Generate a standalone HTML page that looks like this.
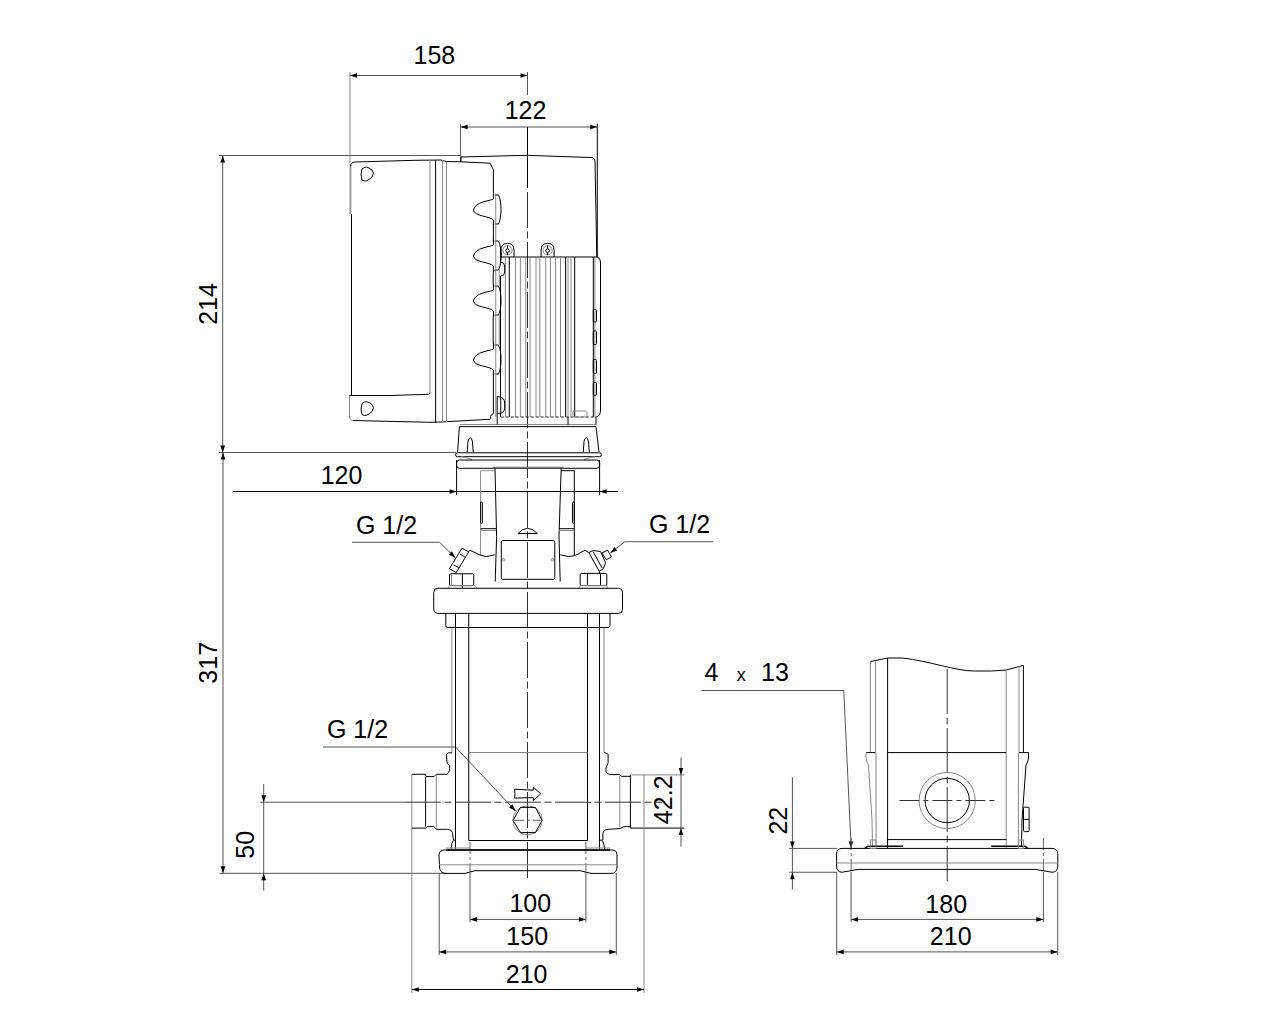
<!DOCTYPE html>
<html><head><meta charset="utf-8"><style>
html,body{margin:0;padding:0;background:#fff;width:1280px;height:1024px;overflow:hidden}
svg{display:block;font-family:"Liberation Sans",sans-serif}
.k{stroke:#000;stroke-width:1;fill:none}
.g{stroke:#888;stroke-width:1;fill:none}
.d{stroke:#555;stroke-width:1;fill:none}
.dd{stroke:#666;stroke-width:1;fill:none;stroke-dasharray:12 3 3 3}
.c{stroke:#333;stroke-width:1;fill:none;stroke-dasharray:36 3.5 7 3.5}
.cs{stroke:#333;stroke-width:1;fill:none;stroke-dasharray:45 3.5 7 3.5}
.ar{fill:#000;stroke:none}
.dash2{stroke:#222;stroke-width:1;fill:none;stroke-dasharray:3 2}
.gt{stroke:#777;stroke-width:1.6;fill:none}
.thick{stroke:#000;stroke-width:1.6;fill:none}
.c2{stroke:#333;stroke-width:1;fill:none;stroke-dasharray:20 4 5 4}
text{fill:#000}
</style></head><body>
<svg width="1280" height="1024" viewBox="0 0 1280 1024">
<line x1="350" y1="72" x2="350" y2="214" class="g"/>
<line x1="527.5" y1="72" x2="527.5" y2="95" class="d"/>
<line x1="350" y1="75.5" x2="527.5" y2="75.5" class="d"/>
<polygon points="350,75.5 357,73.2 357,77.8" class="ar"/>
<polygon points="527.5,75.5 520.5,73.2 520.5,77.8" class="ar"/>
<text x="434.4" y="64" font-size="25" text-anchor="middle" >158</text>
<line x1="460.6" y1="124" x2="460.6" y2="161.8" class="d"/>
<line x1="597.3" y1="123.7" x2="597.3" y2="257" class="k"/>
<line x1="460.6" y1="127" x2="597.3" y2="127" class="d"/>
<polygon points="460.6,127 467.6,124.7 467.6,129.3" class="ar"/>
<polygon points="597.3,127 590.3,124.7 590.3,129.3" class="ar"/>
<text x="525.5" y="118.6" font-size="25" text-anchor="middle" >122</text>
<line x1="219" y1="155.5" x2="461" y2="155.5" class="d"/>
<line x1="219" y1="452.5" x2="456" y2="452.5" class="d"/>
<line x1="222.7" y1="155.5" x2="222.7" y2="452.5" class="d"/>
<polygon points="222.7,155.5 220.39999999999998,162.5 225.0,162.5" class="ar"/>
<polygon points="222.7,452.5 220.39999999999998,445.5 225.0,445.5" class="ar"/>
<text x="0" y="0" font-size="25" text-anchor="middle" transform="translate(216.5,304) rotate(-90)" >214</text>
<line x1="223" y1="452.5" x2="223" y2="873.3" class="d"/>
<polygon points="223,452.5 220.7,459.5 225.3,459.5" class="ar"/>
<polygon points="223,873.3 220.7,866.3 225.3,866.3" class="ar"/>
<text x="0" y="0" font-size="25" text-anchor="middle" transform="translate(216.5,662.8) rotate(-90)" >317</text>
<line x1="219.5" y1="873.3" x2="446" y2="873.3" class="d"/>
<line x1="263.7" y1="784" x2="263.7" y2="890.5" class="d"/>
<polygon points="263.7,802.2 261.4,795.2 266.0,795.2" class="ar"/>
<polygon points="263.7,873.3 261.4,880.3 266.0,880.3" class="ar"/>
<text x="0" y="0" font-size="25" text-anchor="middle" transform="translate(253.6,844.8) rotate(-90)" >50</text>
<line x1="233" y1="491.5" x2="618" y2="491.5" class="k"/>
<polygon points="456.6,491.5 449.6,489.2 449.6,493.8" class="ar"/>
<polygon points="599.6,491.5 606.6,489.2 606.6,493.8" class="ar"/>
<line x1="456.6" y1="460" x2="456.6" y2="495" class="k"/>
<line x1="599.6" y1="460" x2="599.6" y2="495" class="k"/>
<text x="341.5" y="484" font-size="25" text-anchor="middle" >120</text>
<text x="386.5" y="533.5" font-size="25" text-anchor="middle" >G 1/2</text>
<polyline points="352,542.3 439.5,542.3 455.4,557.7" class="d"/>
<polygon points="455.40,557.70 448.77,554.48 451.97,551.18" class="ar"/>
<text x="679.5" y="533" font-size="25" text-anchor="middle" >G 1/2</text>
<polyline points="713,541.7 624.8,541.7 610.3,553" class="d"/>
<polygon points="610.30,553.00 614.41,546.88 617.24,550.51" class="ar"/>
<text x="357.5" y="738.2" font-size="25" text-anchor="middle" >G 1/2</text>
<polyline points="323,747 455.5,747 515.6,811" class="d"/>
<polygon points="515.60,811.00 509.13,807.47 512.48,804.32" class="ar"/>
<line x1="630.4" y1="774.9" x2="684.3" y2="774.9" class="g"/>
<line x1="630.4" y1="828.1" x2="684.3" y2="828.1" class="k"/>
<line x1="681" y1="757.6" x2="681" y2="846.6" class="d"/>
<polygon points="681,774.9 678.7,767.9 683.3,767.9" class="ar"/>
<polygon points="681,828.1 678.7,835.1 683.3,835.1" class="ar"/>
<text x="0" y="0" font-size="25" text-anchor="middle" transform="translate(672.3,799.8) rotate(-90)" >42.2</text>
<line x1="470" y1="842" x2="470" y2="873" class="dd"/>
<line x1="585.9" y1="842" x2="585.9" y2="873" class="dd"/>
<line x1="470" y1="873" x2="470" y2="922.4" class="d"/>
<line x1="585.9" y1="873" x2="585.9" y2="922.4" class="d"/>
<line x1="470" y1="919.4" x2="585.9" y2="919.4" class="d"/>
<polygon points="470,919.4 477,917.1 477,921.6999999999999" class="ar"/>
<polygon points="585.9,919.4 578.9,917.1 578.9,921.6999999999999" class="ar"/>
<text x="530.3" y="911.6" font-size="25" text-anchor="middle" >100</text>
<line x1="439.2" y1="873" x2="439.2" y2="955" class="d"/>
<line x1="616.3" y1="873" x2="616.3" y2="955" class="d"/>
<line x1="439.2" y1="951.9" x2="616.3" y2="951.9" class="d"/>
<polygon points="439.2,951.9 446.2,949.6 446.2,954.1999999999999" class="ar"/>
<polygon points="616.3,951.9 609.3,949.6 609.3,954.1999999999999" class="ar"/>
<text x="527.2" y="945.2" font-size="25" text-anchor="middle" >150</text>
<line x1="411.8" y1="774" x2="411.8" y2="993" class="g"/>
<line x1="644" y1="774.9" x2="644" y2="993" class="g"/>
<line x1="411.8" y1="989.5" x2="644" y2="989.5" class="k"/>
<polygon points="411.8,989.5 418.8,987.2 418.8,991.8" class="ar"/>
<polygon points="644,989.5 637,987.2 637,991.8" class="ar"/>
<text x="526.6" y="983.2" font-size="25" text-anchor="middle" >210</text>
<text x="704.5" y="681" font-size="25" text-anchor="start" >4</text>
<text x="741.3" y="681" font-size="18" text-anchor="middle" >x</text>
<text x="761" y="681" font-size="25" text-anchor="start" >13</text>
<polyline points="701.3,690.5 843.75,690.5 851.2,848.4" class="d"/>
<polygon points="851.20,848.40 848.57,841.52 853.17,841.30" class="ar"/>
<line x1="789" y1="848.4" x2="837" y2="848.4" class="d"/>
<line x1="789" y1="872.25" x2="837" y2="872.25" class="d"/>
<line x1="792.4" y1="777.2" x2="792.4" y2="889.4" class="d"/>
<polygon points="792.4,848.4 790.1,841.4 794.6999999999999,841.4" class="ar"/>
<polygon points="792.4,872.25 790.1,879.25 794.6999999999999,879.25" class="ar"/>
<text x="0" y="0" font-size="25" text-anchor="middle" transform="translate(786.7,820.7) rotate(-90)" >22</text>
<line x1="851.1" y1="838" x2="851.1" y2="872" class="dd"/>
<line x1="1043.4" y1="838" x2="1043.4" y2="872" class="dd"/>
<line x1="851.1" y1="872" x2="851.1" y2="922" class="d"/>
<line x1="1043.4" y1="872" x2="1043.4" y2="922" class="d"/>
<line x1="851.1" y1="919.4" x2="1043.4" y2="919.4" class="d"/>
<polygon points="851.1,919.4 858.1,917.1 858.1,921.6999999999999" class="ar"/>
<polygon points="1043.4,919.4 1036.4,917.1 1036.4,921.6999999999999" class="ar"/>
<text x="946.2" y="913.2" font-size="25" text-anchor="middle" >180</text>
<line x1="836.7" y1="872" x2="836.7" y2="955" class="d"/>
<line x1="1057.7" y1="872" x2="1057.7" y2="955" class="d"/>
<line x1="836.7" y1="951.9" x2="1057.7" y2="951.9" class="d"/>
<polygon points="836.7,951.9 843.7,949.6 843.7,954.1999999999999" class="ar"/>
<polygon points="1057.7,951.9 1050.7,949.6 1050.7,954.1999999999999" class="ar"/>
<text x="950.7" y="945.2" font-size="25" text-anchor="middle" >210</text>
<line x1="527.5" y1="127" x2="527.5" y2="188" class="k"/>
<line x1="527.5" y1="192" x2="527.5" y2="880" class="c"/>
<path d="M461,161.8 L446,161.5 L441,160 L415,160.3 L355,162 Q350.8,162.3 350.8,166" class="k"/>
<line x1="350.8" y1="166" x2="350.8" y2="214" class="g"/>
<line x1="351.5" y1="214" x2="351.5" y2="395.5" class="k"/>
<line x1="349.5" y1="395.5" x2="349.5" y2="416" class="g"/>
<path d="M349.5,416 Q349.8,420.3 353,420.5" class="g"/>
<path d="M353,420.5 L430,422.3 L441,422 L490.1,419.25 Q491.5,418.5 490.5,416.5 Q490.5,415 493.4,413.4 L493.4,374" class="k"/>
<line x1="430" y1="160.5" x2="430" y2="393.5" class="g"/>
<line x1="435.6" y1="160" x2="435.6" y2="422.5" class="k"/>
<line x1="442.5" y1="160" x2="442.5" y2="422" class="g"/>
<line x1="446.5" y1="161.5" x2="446.5" y2="422" class="g"/>
<path d="M349.5,395.5 L390,395.5 L428.5,394.3 Q430,394 430,392.5" class="k"/>
<path d="M362,169 Q366,165 372,170 Q375,173 372,177 Q366,183 362,180 Q360,175 362,169 Z" class="k"/>
<path d="M362,403.5 Q366,399.5 372,404.5 Q375,407.5 372,411.5 Q366,417.5 362,414.5 Q360,409.5 362,403.5 Z" class="k"/>
<path d="M461,161.8 L490,163.2 L493.4,169.5 L493.4,193.4" class="k"/>
<path d="M493.4,193.5 L493.4,199.0 C490,201.0 475,201.5 473.5,210.0 C474,216.5 490,216.0 493.4,220.0 L493.4,225.5" class="k"/>
<path d="M494.6,195.0 L498.5,195.0 Q501,200.0 501,209.5 Q501,219.0 498.5,224.0 L494.6,224.0" class="k"/>
<path d="M493.4,239.5 L493.4,245.0 C490,247.0 475,247.5 473.5,256.0 C474,262.5 490,262.0 493.4,266.0 L493.4,271.5" class="k"/>
<path d="M494.6,241.0 L498.5,241.0 Q501,246.0 501,255.5 Q501,265.0 498.5,270.0 L494.6,270.0" class="k"/>
<path d="M493.4,284.5 L493.4,290.0 C490,292.0 475,292.5 473.5,301.0 C474,307.5 490,307.0 493.4,311.0 L493.4,316.5" class="k"/>
<path d="M494.6,286.0 L498.5,286.0 Q501,291.0 501,300.5 Q501,310.0 498.5,315.0 L494.6,315.0" class="k"/>
<path d="M493.4,343.5 L493.4,349.0 C490,351.0 475,351.5 473.5,360.0 C474,366.5 490,366.0 493.4,370.0 L493.4,375.5" class="k"/>
<path d="M494.6,345.0 L498.5,345.0 Q501,350.0 501,359.5 Q501,369.0 498.5,374.0 L494.6,374.0" class="k"/>
<line x1="493.4" y1="193.8" x2="493.4" y2="195.5" class="k"/>
<line x1="493.4" y1="224" x2="493.4" y2="241" class="k"/>
<path d="M494,270 Q493.2,271 493.2,274 L493.2,283 Q493.2,286 494,286" class="k"/>
<line x1="499.3" y1="270" x2="499.3" y2="286" class="g"/>
<path d="M494,315 Q493.2,316 493.2,319 L493.2,342 Q493.2,345 494,345" class="k"/>
<line x1="499.3" y1="315" x2="499.3" y2="345" class="g"/>
<line x1="495.75" y1="193" x2="495.75" y2="417" class="g"/>
<path d="M461,161.8 L461,157 L527,155.3 L592.6,157.6 Q595,158.5 595,161 L596.8,257" class="k"/>
<line x1="500.7" y1="257" x2="597" y2="257" class="k"/>
<path d="M597,257 Q600.5,258 600.5,262 L600.5,410 Q600.5,416 596,417" class="k"/>
<line x1="505.4" y1="257" x2="505.4" y2="417" class="g"/>
<line x1="509.3" y1="257" x2="509.3" y2="417" class="k"/>
<line x1="515.5" y1="257" x2="515.5" y2="417" class="g"/>
<line x1="520.4" y1="257" x2="520.4" y2="417" class="g"/>
<line x1="525.8" y1="257" x2="525.8" y2="417" class="g"/>
<line x1="530" y1="257" x2="530" y2="417" class="g"/>
<line x1="536" y1="257" x2="536" y2="417" class="g"/>
<line x1="539.8" y1="257" x2="539.8" y2="417" class="g"/>
<line x1="545.7" y1="257" x2="545.7" y2="417" class="g"/>
<line x1="550.4" y1="257" x2="550.4" y2="417" class="g"/>
<line x1="555.6" y1="257" x2="555.6" y2="417" class="g"/>
<line x1="560.5" y1="257" x2="560.5" y2="417" class="g"/>
<line x1="565.6" y1="257" x2="565.6" y2="417" class="k"/>
<line x1="568" y1="257" x2="568" y2="417" class="g"/>
<line x1="571" y1="257" x2="571" y2="417" class="g"/>
<line x1="574.7" y1="257" x2="574.7" y2="417" class="k"/>
<line x1="593.3" y1="257" x2="593.3" y2="417" class="k"/>
<line x1="594.9" y1="257" x2="594.9" y2="417" class="g"/>
<line x1="500.7" y1="417" x2="596" y2="417" class="dash2"/>
<line x1="500.5" y1="246.5" x2="500.5" y2="261" class="k"/>
<line x1="500.5" y1="276" x2="500.5" y2="417" class="k"/>
<line x1="497.2" y1="396" x2="497.2" y2="417" class="k"/>
<rect x="593.3" y="309.5" width="3.2" height="12.5" rx="1" class="k"/>
<rect x="593.3" y="331" width="3.2" height="13.600000000000023" rx="1" class="k"/>
<rect x="593.3" y="359.4" width="3.2" height="14.0" rx="1" class="k"/>
<rect x="593.3" y="382.5" width="3.2" height="12.699999999999989" rx="1" class="k"/>
<rect x="573" y="411" width="14" height="6" rx="1.5" class="g"/>
<path d="M500.7,262 Q504.7,262.5 504.7,266 L504.7,272 Q504.7,276 500.7,276" class="k"/>
<path d="M498,396.6 Q504.7,397 504.7,403 L504.7,408 Q504.7,413.4 498,413.4" class="k"/>
<line x1="501" y1="398" x2="501" y2="412" class="g"/>
<path d="M501.0,257 L501.0,250 Q501.0,243.4 507.5,243.4 Q514.0,243.4 514.0,250 L514.0,257" class="k"/>
<circle cx="507.5" cy="250.3" r="4.6" class="g"/>
<circle cx="507.5" cy="250.6" r="1.8" class="k"/>
<line x1="507.5" y1="245.5" x2="507.5" y2="248.5" class="k"/>
<line x1="507.5" y1="252.5" x2="507.5" y2="255" class="k"/>
<path d="M541.1,257 L541.1,250 Q541.1,243.4 547.6,243.4 Q554.1,243.4 554.1,250 L554.1,257" class="k"/>
<circle cx="547.6" cy="250.3" r="4.6" class="g"/>
<circle cx="547.6" cy="250.6" r="1.8" class="k"/>
<line x1="547.6" y1="245.5" x2="547.6" y2="248.5" class="k"/>
<line x1="547.6" y1="252.5" x2="547.6" y2="255" class="k"/>
<line x1="459.7" y1="424.5" x2="596" y2="424.5" class="g"/>
<line x1="497.2" y1="417" x2="497.2" y2="424.5" class="k"/>
<line x1="568" y1="417" x2="568" y2="424.5" class="k"/>
<line x1="596" y1="417" x2="596" y2="424.5" class="k"/>
<path d="M459.4,426.6 L457.6,452 M596,426.6 L599,452" class="k"/>
<line x1="459.4" y1="426.6" x2="596" y2="426.6" class="k"/>
<rect x="455.5" y="452.8" width="145.9" height="3.9" rx="2" class="k"/>
<path d="M467.2,452 L468.0,441 Q470.2,434.5 472.4,441 L473.2,452" class="k"/>
<path d="M583.25,452 L584.05,441 Q586.25,434.5 588.45,441 L589.25,452" class="k"/>
<path d="M461,456.7 Q467,457 472,460 M595,456.7 Q589,457 584,460" class="g"/>
<rect x="456.6" y="460" width="143" height="8.3" rx="3" class="k"/>
<line x1="492.7" y1="467.6" x2="563.75" y2="467.6" class="gt"/>
<path d="M480.6,555 L480.6,470.7 L495,470.7" class="g"/>
<path d="M561,470.7 L574.3,470.7 L574.3,555" class="k"/>
<path d="M495,468 L496.6,536.6 L495.2,581.6" class="k"/>
<path d="M561.2,468 L559,536 L560.2,581.6" class="k"/>
<line x1="480.6" y1="528.7" x2="496" y2="528.7" class="k"/>
<line x1="480.6" y1="530.5" x2="496" y2="530.5" class="g"/>
<line x1="559" y1="528.7" x2="574.3" y2="528.7" class="k"/>
<line x1="559" y1="530.5" x2="574.3" y2="530.5" class="g"/>
<rect x="480.6" y="502" width="1.8" height="21.4" rx="0.8" class="k"/>
<rect x="572.5" y="502" width="1.8" height="21.4" rx="0.8" class="k"/>
<path d="M518,533.5 Q522,528.4 527.5,528.4 Q533,528.4 537.4,533.5 Z" class="k"/>
<rect x="501.3" y="540.5" width="53.5" height="38.8" rx="1.5" class="k"/>
<circle cx="503.6" cy="559.7" r="1.3" class="g"/>
<circle cx="552.4" cy="559.7" r="1.3" class="g"/>
<polyline points="468.3,551.5 470.2,550.3 480,555 486.25,556.6 494.8,554.8" class="k"/>
<polyline points="560.3,554.8 568.5,556.6 575.5,555.4 584.9,550.3 588.8,552.6" class="k"/>
<polygon points="462,548.1 468.7,551.9 456.2,572.6 449.4,568.7" class="k"/>
<line x1="459.8" y1="553.8" x2="464.8" y2="557" class="k"/>
<line x1="453.4" y1="564.8" x2="458.9" y2="567.5" class="k"/>
<polygon points="588.8,552.6 593.1,550.5 600.5,551.5 605.6,562.8 603.3,568.7 599.4,571.4" class="k"/>
<line x1="593" y1="551.5" x2="599.4" y2="563" class="k"/>
<line x1="599.4" y1="563" x2="602" y2="568" class="k"/>
<polygon points="601.7,553 607.6,550.2 611.5,557 606.4,559.7" class="k"/>
<line x1="599.4" y1="571.4" x2="599.8" y2="574" class="k"/>
<rect x="449.5" y="573.75" width="24.25" height="11.85" rx="1.5" class="k"/>
<line x1="451.5" y1="574.5" x2="451.5" y2="585" class="g"/>
<line x1="462.4" y1="574" x2="462.4" y2="588" class="k"/>
<polyline points="448,588.2 449.5,585.6 475,585.6 476.9,588.2" class="g"/>
<rect x="580.2" y="573.4" width="26.6" height="12.2" rx="1.5" class="k"/>
<line x1="587.4" y1="574" x2="587.4" y2="585.5" class="k"/>
<line x1="600.5" y1="574" x2="600.5" y2="585.5" class="k"/>
<polyline points="579,588.2 580.5,585.6 606.5,585.6 608,588.2" class="g"/>
<rect x="433.75" y="588.3" width="188.75" height="25.1" rx="4" class="k"/>
<path d="M445.8,613.4 L445.8,625.5 Q445.8,627.5 448,627.5 L608,627.5 Q610,627.5 610,625.5 L610,613.4" class="k"/>
<line x1="455.5" y1="613.4" x2="455.5" y2="848.8" class="k"/>
<line x1="468.75" y1="613.4" x2="468.75" y2="840.5" class="k"/>
<line x1="587.5" y1="613.4" x2="587.5" y2="840.5" class="k"/>
<line x1="599.5" y1="613.4" x2="599.5" y2="848.8" class="k"/>
<line x1="451.9" y1="627.5" x2="451.9" y2="752.8" class="g"/>
<line x1="604" y1="627.5" x2="604" y2="752.3" class="g"/>
<line x1="468.75" y1="752.5" x2="587.5" y2="752.5" class="g"/>
<line x1="468.75" y1="840.5" x2="587.5" y2="840.5" class="k"/>
<polyline points="451.9,752.8 448.4,752.8 446.25,754.7 447.2,763.4 449.7,765.6 449.7,770.6 446.9,774.25 436.25,774.25 434,776.6 426.25,776.6 425.3,774.25 412,774.25" class="k"/>
<line x1="425.6" y1="776.6" x2="425.6" y2="826.6" class="k"/>
<line x1="436.25" y1="774.25" x2="436.25" y2="829.3" class="g"/>
<polyline points="412,828.1 425.8,828.1 427,826.6 433.6,826.6 436.3,829.3 447.7,829.3" class="k"/>
<path d="M447.7,829.3 Q452.7,829.8 452.7,834.4 L453.5,840.2 L455.5,840.2 M453,840.8 Q451.5,843 451.2,848.8" class="k"/>
<polyline points="604,752.3 608.1,754 608.1,762.9 606,768.1 606,772.2 609.3,774.6 619.3,774.6 621.6,776.3 630.4,776.3" class="k"/>
<line x1="630.4" y1="774.9" x2="630.4" y2="828.1" class="k"/>
<line x1="619.8" y1="776" x2="619.8" y2="827" class="g"/>
<polyline points="630.4,826.6 624,826.7 620.4,828.5 608.1,829.3" class="k"/>
<path d="M608.1,829.3 Q602.9,829.8 602.9,833.75 L602.9,840.2 L599.5,840.2 M602.5,840.8 Q604,843 604.6,849" class="k"/>
<line x1="260" y1="802.2" x2="405" y2="802.2" class="d"/>
<line x1="405" y1="802.2" x2="662" y2="802.2" class="c"/>
<circle cx="527.5" cy="820.3" r="14.5" class="g"/>
<polygon points="513,820.3 520.5,807.4 535.5,807.4 542,820.3 535.5,832.6 520.5,832.6" class="k"/>
<line x1="512" y1="820.3" x2="543" y2="820.3" class="dd"/>
<path d="M514.5,789.2 L533.3,790.2 L533.3,787.2 L540.7,793.75 L533.3,800.8 L533.3,797.6 L514.5,798.1 Q515.5,793.5 514.5,789.2 Z" class="k"/>
<path d="M444.5,850 L612.8,850 Q617,850.3 617,855 L617,867 Q617,873.4 611,873.4 L591,873.4 L580,870.7 L475,870.7 L464.8,873.4 L445.3,873.4 Q439.8,873 439.5,867 L439,855 Q439,850.2 444.5,850 Z" class="k"/>
<line x1="439" y1="864.8" x2="617" y2="864.8" class="g"/>
<line x1="446" y1="850" x2="610" y2="850" class="thick"/>
<line x1="446" y1="848" x2="470" y2="848" class="g"/>
<line x1="586" y1="848" x2="610" y2="848" class="g"/>
<line x1="870.4" y1="661.5" x2="870.4" y2="752.6" class="g"/>
<path d="M870.4,661.5 L887.6,658 L902.2,658 C930,661 955,671 974.4,671 L991.6,671 L1006.2,670 L1023.4,665.4 L1023.4,752.6" class="k"/>
<line x1="875.5" y1="660.5" x2="875.5" y2="752.6" class="g"/>
<line x1="887.6" y1="658" x2="887.6" y2="848.4" class="k"/>
<line x1="1006.2" y1="670" x2="1006.2" y2="848.4" class="g"/>
<line x1="1019" y1="666" x2="1019" y2="752.6" class="g"/>
<line x1="866.1" y1="752.6" x2="875.5" y2="752.6" class="k"/>
<line x1="887.6" y1="752.6" x2="1006.2" y2="752.6" class="k"/>
<line x1="1019" y1="752.6" x2="1028.5" y2="752.6" class="k"/>
<path d="M866.1,752.6 L866.1,758 Q866.5,762 868.5,765 L872,820 L872.5,846" class="g"/>
<path d="M1028.5,752.6 L1028.5,758 Q1028,762 1026,765 L1022,820 L1021.5,846" class="k"/>
<line x1="876" y1="752.6" x2="876" y2="846" class="g"/>
<line x1="1018.4" y1="752.6" x2="1018.4" y2="846" class="g"/>
<line x1="947.2" y1="669" x2="947.2" y2="881" class="cs"/>
<circle cx="947.2" cy="800.5" r="28.1" class="g"/>
<circle cx="947.2" cy="800.5" r="22.2" class="k"/>
<line x1="899.4" y1="800.5" x2="995" y2="800.5" class="c2"/>
<line x1="887.2" y1="839.6" x2="1006.3" y2="839.6" class="k"/>
<rect x="1023.5" y="807.2" width="5.6" height="24.4" rx="1" class="k"/>
<line x1="1023.5" y1="819.4" x2="1029.1" y2="819.4" class="k"/>
<path d="M864.7,848.4 L868,846.2 L903.1,846.2 M991.25,846.2 L1025,846.2 L1027.8,848.4" class="thick"/>
<path d="M842,848.4 L1052,848.4 Q1057.8,848.6 1057.8,854 L1057.8,866 Q1057.8,872.25 1052,872.25 L1035.3,869.4 L858,869.4 L842,872.25 Q836.6,872 836.6,866 L836.6,854 Q836.6,848.6 842,848.4 Z" class="k"/>
<line x1="836.6" y1="863" x2="1057.8" y2="863" class="g"/>
<rect x="870.3" y="840" width="5.7" height="8.4" rx="0" class="g"/>
<rect x="1018.4" y="840" width="5" height="8.4" rx="0" class="g"/>
</svg></body></html>
